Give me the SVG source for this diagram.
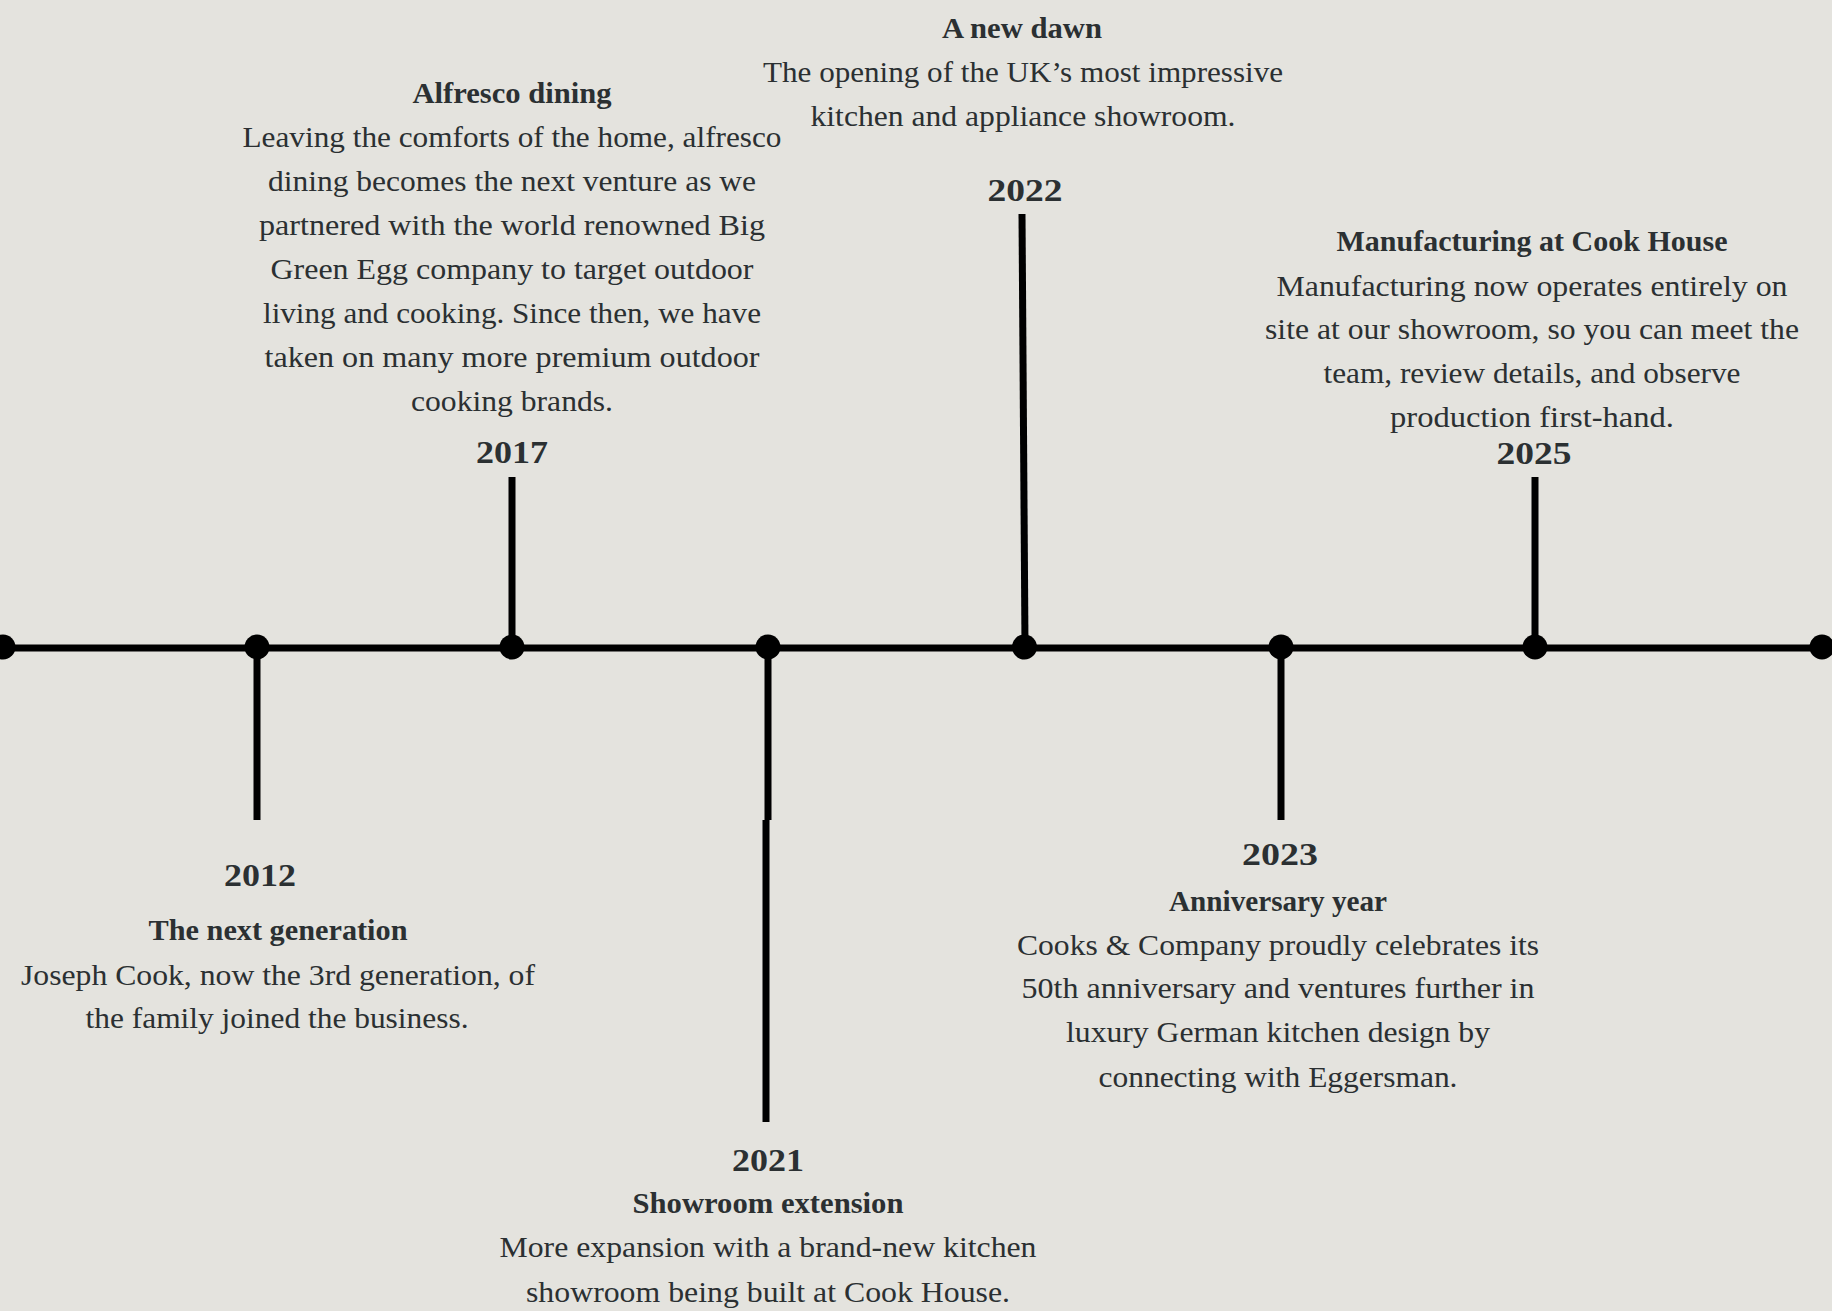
<svg xmlns="http://www.w3.org/2000/svg" width="1832" height="1311" viewBox="0 0 1832 1311">
<style>
.bg{fill:#e4e3de}
.ln{stroke:#000;stroke-width:7;fill:none}
.dot{fill:#000}
text{font-family:"Liberation Serif","Times New Roman",serif;fill:#2b3032;text-anchor:middle}
.yr{font-size:32px;font-weight:bold}
.hd{font-size:30px;font-weight:bold}
.bd{font-size:30px}
</style>
<rect class="bg" x="0" y="0" width="1832" height="1311"/>
<g id="connectors">
<line class="ln" x1="0" y1="648" x2="1832" y2="648"/>
<line class="ln" x1="257" y1="646" x2="257" y2="820"/>
<line class="ln" x1="512" y1="477" x2="512" y2="646"/>
<line class="ln" x1="768" y1="646" x2="768" y2="820"/>
<line class="ln" x1="766" y1="820" x2="766" y2="1122"/>
<line class="ln" x1="1022" y1="214" x2="1025" y2="646"/>
<line class="ln" x1="1281" y1="646" x2="1281" y2="820"/>
<line class="ln" x1="1535" y1="477" x2="1535" y2="646"/>
</g>
<g id="timeline-dots">
<circle class="dot" cx="3" cy="647" r="12.5"/>
<circle class="dot" cx="257" cy="647" r="12.5"/>
<circle class="dot" cx="512" cy="647" r="12.5"/>
<circle class="dot" cx="768" cy="647" r="12.5"/>
<circle class="dot" cx="1024.5" cy="647" r="12.5"/>
<circle class="dot" cx="1281" cy="647" r="12.5"/>
<circle class="dot" cx="1535" cy="647" r="12.5"/>
<circle class="dot" cx="1822" cy="647" r="12.5"/>
</g>
<g id="node-2012">
<text class="yr" x="260" y="886" textLength="72" lengthAdjust="spacingAndGlyphs">2012</text>
<text class="hd" x="278" y="940" textLength="259" lengthAdjust="spacingAndGlyphs">The next generation</text>
<text class="bd" x="278" y="985" textLength="514" lengthAdjust="spacingAndGlyphs">Joseph Cook, now the 3rd generation, of</text>
<text class="bd" x="277" y="1028" textLength="383" lengthAdjust="spacingAndGlyphs">the family joined the business.</text>
</g>
<g id="node-2017">
<text class="hd" x="512" y="103" textLength="199" lengthAdjust="spacingAndGlyphs">Alfresco dining</text>
<text class="bd" x="512" y="147" textLength="539" lengthAdjust="spacingAndGlyphs">Leaving the comforts of the home, alfresco</text>
<text class="bd" x="512" y="191" textLength="488" lengthAdjust="spacingAndGlyphs">dining becomes the next venture as we</text>
<text class="bd" x="512" y="235" textLength="506" lengthAdjust="spacingAndGlyphs">partnered with the world renowned Big</text>
<text class="bd" x="512" y="279" textLength="483" lengthAdjust="spacingAndGlyphs">Green Egg company to target outdoor</text>
<text class="bd" x="512" y="323" textLength="498" lengthAdjust="spacingAndGlyphs">living and cooking. Since then, we have</text>
<text class="bd" x="512" y="367" textLength="495" lengthAdjust="spacingAndGlyphs">taken on many more premium outdoor</text>
<text class="bd" x="512" y="411" textLength="202" lengthAdjust="spacingAndGlyphs">cooking brands.</text>
<text class="yr" x="512" y="463" textLength="72" lengthAdjust="spacingAndGlyphs">2017</text>
</g>
<g id="node-2021">
<text class="yr" x="768" y="1171" textLength="72" lengthAdjust="spacingAndGlyphs">2021</text>
<text class="hd" x="768" y="1213" textLength="271" lengthAdjust="spacingAndGlyphs">Showroom extension</text>
<text class="bd" x="768" y="1257" textLength="537" lengthAdjust="spacingAndGlyphs">More expansion with a brand-new kitchen</text>
<text class="bd" x="768" y="1302" textLength="484" lengthAdjust="spacingAndGlyphs">showroom being built at Cook House.</text>
</g>
<g id="node-2022">
<text class="hd" x="1022" y="38" textLength="160" lengthAdjust="spacingAndGlyphs">A new dawn</text>
<text class="bd" x="1023" y="82" textLength="520" lengthAdjust="spacingAndGlyphs">The opening of the UK’s most impressive</text>
<text class="bd" x="1023" y="126" textLength="425" lengthAdjust="spacingAndGlyphs">kitchen and appliance showroom.</text>
<text class="yr" x="1025" y="201" textLength="75" lengthAdjust="spacingAndGlyphs">2022</text>
</g>
<g id="node-2023">
<text class="yr" x="1280" y="865" textLength="76" lengthAdjust="spacingAndGlyphs">2023</text>
<text class="hd" x="1278" y="911" textLength="218" lengthAdjust="spacingAndGlyphs">Anniversary year</text>
<text class="bd" x="1278" y="955" textLength="522" lengthAdjust="spacingAndGlyphs">Cooks &amp; Company proudly celebrates its</text>
<text class="bd" x="1278" y="998" textLength="513" lengthAdjust="spacingAndGlyphs">50th anniversary and ventures further in</text>
<text class="bd" x="1278" y="1042" textLength="424" lengthAdjust="spacingAndGlyphs">luxury German kitchen design by</text>
<text class="bd" x="1278" y="1087" textLength="359" lengthAdjust="spacingAndGlyphs">connecting with Eggersman.</text>
</g>
<g id="node-2025">
<text class="hd" x="1532" y="251" textLength="391" lengthAdjust="spacingAndGlyphs">Manufacturing at Cook House</text>
<text class="bd" x="1532" y="296" textLength="511" lengthAdjust="spacingAndGlyphs">Manufacturing now operates entirely on</text>
<text class="bd" x="1532" y="339" textLength="534" lengthAdjust="spacingAndGlyphs">site at our showroom, so you can meet the</text>
<text class="bd" x="1532" y="383" textLength="417" lengthAdjust="spacingAndGlyphs">team, review details, and observe</text>
<text class="bd" x="1532" y="427" textLength="284" lengthAdjust="spacingAndGlyphs">production first-hand.</text>
<text class="yr" x="1534" y="464" textLength="75" lengthAdjust="spacingAndGlyphs">2025</text>
</g>
</svg>
